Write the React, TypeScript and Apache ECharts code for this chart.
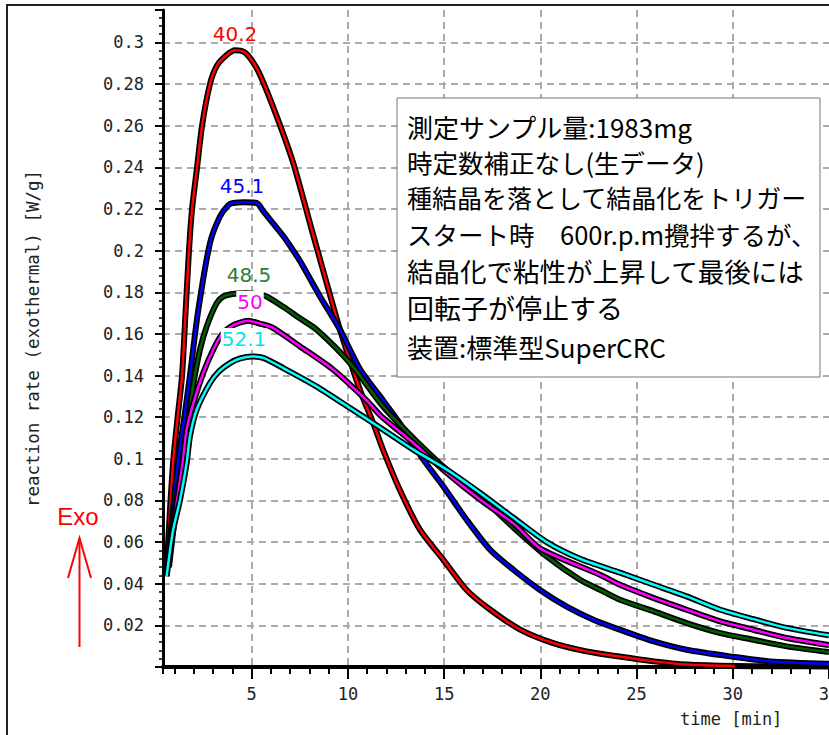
import React, { useEffect, useRef } from 'react';
import * as echarts from 'echarts';

// Temperature labels of the five runs
const runLabels = ['40.2', '45.1', '48.5', '50', '52.1'];
const runColors = ['#ff0000', '#0000ff', '#006000', '#ff00ff', '#00ffff'];
const runLabelColors = ['#ff0000', '#0000ff', '#2e7d32', '#ff00ff', '#00e5ee'];

// [time (min), reaction rate (W/g)]
const run402: [number, number][] = [
  [0.6, 0.05], [0.75, 0.075], [0.93, 0.1], [1.15, 0.12], [1.38, 0.14], [1.56, 0.17],
  [1.74, 0.2], [1.9, 0.22], [2.16, 0.24], [2.42, 0.26], [2.83, 0.28], [3.2, 0.289],
  [3.7, 0.294], [4.13, 0.2963], [4.6, 0.2955], [5.0, 0.2915], [5.43, 0.2845], [6.3, 0.2645],
  [7.16, 0.242], [8.12, 0.21], [9.0, 0.181], [9.59, 0.162], [10.63, 0.133], [11.32, 0.117],
  [11.84, 0.104], [12.7, 0.085], [13.74, 0.066], [14.96, 0.0515], [16.17, 0.037],
  [17.4, 0.0275], [18.95, 0.018], [20.67, 0.0115], [22.4, 0.0075], [24.1, 0.005],
  [25.9, 0.0027], [27.6, 0.0012], [30.1, 0.0005],
];
// the black outline of the 40.2 run keeps running along the baseline
const run402Tail: [number, number][] = [[32.5, 0.0004], [35, 0.0003]];

const run451: [number, number][] = [
  [0.6, 0.048], [0.9, 0.075], [1.19, 0.1], [1.5, 0.12], [1.79, 0.14], [2.2, 0.17],
  [2.83, 0.2036], [3.35, 0.2164], [3.8, 0.222], [4.04, 0.2229], [4.6, 0.2232], [5.26, 0.2229],
  [5.6, 0.219], [6.12, 0.213], [6.64, 0.207], [7.16, 0.2], [7.51, 0.195], [8.55, 0.178],
  [9.59, 0.162], [10.63, 0.143], [11.67, 0.13], [12.7, 0.117], [13.92, 0.0996],
  [14.96, 0.0867], [16.17, 0.0707], [17.39, 0.0563], [18.6, 0.0467], [19.98, 0.037],
  [21.37, 0.029], [22.76, 0.0227], [24.14, 0.0179], [25.9, 0.0123], [27.6, 0.0083],
  [29.87, 0.0051], [31.95, 0.0027], [35, 0.0016],
];

const run485: [number, number][] = [
  [0.65, 0.048], [1.0, 0.075], [1.25, 0.09], [1.53, 0.101], [1.71, 0.118], [1.97, 0.136],
  [2.31, 0.1524], [2.66, 0.1636], [3.18, 0.1748], [3.53, 0.178], [4.0, 0.1792], [4.7, 0.1795],
  [5.3, 0.179], [5.78, 0.178], [6.64, 0.173], [7.5, 0.1675], [8.38, 0.162], [10.11, 0.146],
  [11.84, 0.125], [13.5, 0.109], [15.14, 0.0948], [16.87, 0.082], [18.6, 0.067],
  [20.33, 0.0531], [22.06, 0.0419], [23.1, 0.0371], [24.14, 0.0323], [25.9, 0.0267],
  [27.6, 0.0211], [29.35, 0.0163], [31.07, 0.0131], [32.8, 0.0099], [35, 0.0072],
];

const run50: [number, number][] = [
  [0.7, 0.048], [1.05, 0.075], [1.41, 0.098], [1.62, 0.114], [1.97, 0.1268], [2.48, 0.1412],
  [3.0, 0.1524], [3.44, 0.1596], [4.0, 0.164], [4.82, 0.1663], [5.4, 0.165], [6.08, 0.163],
  [7.51, 0.154], [9.24, 0.1428], [10.98, 0.128], [11.67, 0.121], [12.7, 0.113],
  [13.4, 0.1076], [15.14, 0.0932], [16.87, 0.0804], [18.6, 0.069], [19.98, 0.057],
  [23.1, 0.0443], [24.14, 0.0395], [25.9, 0.0331], [27.6, 0.0275], [29.35, 0.0219],
  [31.07, 0.0179], [32.8, 0.0139], [35, 0.0105],
];

const run521: [number, number][] = [
  [0.58, 0.0435], [0.9, 0.065], [1.27, 0.08], [1.62, 0.098], [1.79, 0.1108], [2.14, 0.1236],
  [2.83, 0.1364], [3.3, 0.142], [3.87, 0.146], [4.4, 0.1482], [5.0, 0.1492], [5.6, 0.1485],
  [6.64, 0.1436], [8.38, 0.1347], [10.11, 0.1244], [11.84, 0.114], [13.4, 0.1044],
  [15.14, 0.0948], [16.87, 0.0836], [18.6, 0.0717], [20.33, 0.06], [22.06, 0.052],
  [24.14, 0.0453], [25.9, 0.0395], [27.6, 0.0339], [29.35, 0.0275], [31.07, 0.023],
  [32.8, 0.0188], [35, 0.0152],
];

const runs = [run402, run451, run485, run50, run521];
const outlineRuns = [[...run402, ...run402Tail], run451, run485, run50, run521];

const noteLines = [
  '測定サンプル量:1983mg',
  '時定数補正なし(生データ)',
  '種結晶を落として結晶化をトリガー',
  'スタート時　600r.p.m攪拌するが、',
  '結晶化で粘性が上昇して最後には',
  '回転子が停止する',
  '装置:標準型SuperCRC',
];
const noteLineY = [126, 161, 197, 233, 270, 307, 346];
const noteLineSize = [26, 25.5, 25, 25.5, 26.5, 27, 26];

// label anchor positions (px) for run temperature labels
const runLabelPos: [number, number][] = [[235, 34], [242, 186], [249, 275], [250, 302], [244, 339]];

const X_MIN = 0.39;
const X_MAX = 35;
const Y_MAX = 0.3156;

const MONO = '"DejaVu Sans Mono", monospace';

export default function App() {
  const ref = useRef<HTMLDivElement>(null);

  useEffect(() => {
    if (!ref.current) return;
    const chart = echarts.init(ref.current, null, { renderer: 'svg' });

    const series: any[] = [];
    runs.forEach((d, i) => {
      series.push({
        type: 'line',
        name: runLabels[i] + '-outline',
        data: outlineRuns[i],
        symbol: 'none',
        smooth: 0.25,
        silent: true,
        z: 2 + i * 2,
        lineStyle: { color: '#000', width: 6 },
      });
      series.push({
        type: 'line',
        name: runLabels[i],
        data: d,
        symbol: 'none',
        smooth: 0.25,
        silent: true,
        z: 3 + i * 2,
        lineStyle: { color: runColors[i], width: 2.5 },
      });
    });

    const graphics: any[] = [
      {
        type: 'rect',
        z: 0,
        shape: { x: 7, y: 5, width: 1000, height: 1000 },
        style: { fill: 'none', stroke: '#222', lineWidth: 2 },
      },
      {
        type: 'rect',
        z: 100,
        shape: { x: 397, y: 98, width: 423, height: 279 },
        style: { fill: '#fff', stroke: '#777', lineWidth: 1 },
      },
      ...noteLines.map((t, i) => ({
        type: 'text',
        z: 101,
        x: 407,
        y: noteLineY[i],
        style: {
          text: t,
          font: `${noteLineSize[i]}px "Noto Sans CJK JP"`,
          fill: '#000',
          align: 'left',
          verticalAlign: 'middle',
          textAlign: 'left',
          textVerticalAlign: 'middle',
        },
      })),
      ...runLabels.map((t, i) => ({
        type: 'text',
        z: 120,
        x: runLabelPos[i][0],
        y: runLabelPos[i][1],
        style: {
          text: t,
          font: '20px "DejaVu Sans"',
          fill: runLabelColors[i],
          align: 'center',
          verticalAlign: 'middle',
          textAlign: 'center',
          textVerticalAlign: 'middle',
          backgroundColor: i >= 3 ? '#fff' : undefined,
          padding: i >= 3 ? [1, 1] : 0,
        },
      })),
      {
        type: 'text',
        z: 100,
        x: 78,
        y: 516,
        style: {
          text: 'Exo',
          font: '24px "Liberation Sans"',
          fill: '#ff0000',
          align: 'center',
          verticalAlign: 'middle',
          textAlign: 'center',
          textVerticalAlign: 'middle',
        },
      },
      {
        type: 'line',
        z: 100,
        shape: { x1: 79.5, y1: 647, x2: 79.5, y2: 538 },
        style: { stroke: '#ff0000', lineWidth: 2 },
      },
      {
        type: 'polyline',
        z: 100,
        shape: { points: [[68, 578], [79.5, 538], [91, 578]] },
        style: { stroke: '#ff0000', lineWidth: 2, fill: 'none' },
      },
    ];

    chart.setOption({
      animation: false,
      backgroundColor: '#fff',
      grid: {
        left: 163,
        right: 0,
        top: 10,
        bottom: 68,
        containLabel: false,
        outerBoundsMode: 'none',
      },
      xAxis: [
        {
          type: 'value',
          min: X_MIN,
          max: X_MAX,
          minInterval: 5,
          maxInterval: 5,
          position: 'bottom',
          name: 'time [min]',
          nameLocation: 'end',
          nameGap: -149,
          nameTextStyle: {
            fontFamily: MONO,
            fontSize: 17,
            color: '#222',
            align: 'left',
            verticalAlign: 'top',
            padding: [43, 0, 0, 0],
          },
          axisLine: { show: true, onZero: false, lineStyle: { color: '#000', width: 4 } },
          axisTick: { show: true, length: 12, lineStyle: { color: '#000', width: 2 } },
          axisLabel: {
            margin: 18,
            fontFamily: MONO,
            fontSize: 17,
            color: '#222',
            showMaxLabel: true,
            showMinLabel: false,
            formatter: (v: number) => {
              const r = Math.round(v);
              return Math.abs(v - r) < 1e-6 && r % 5 === 0 && r > 0 ? String(r) : '';
            },
          },
          splitLine: {
            show: true,
            showMinLine: false,
            showMaxLine: false,
            lineStyle: { color: '#aaa', width: 2, type: [7, 5] },
          },
        },
        {
          type: 'value',
          min: X_MIN,
          max: X_MAX,
          minInterval: 1,
          maxInterval: 1,
          position: 'bottom',
          axisLine: { show: false, onZero: false },
          axisTick: { show: true, length: 7, lineStyle: { color: '#000', width: 2 } },
          axisLabel: { show: false },
          splitLine: { show: false },
        },
      ],
      yAxis: {
        type: 'value',
        min: 0,
        max: Y_MAX,
        interval: 0.02,
        name: 'reaction rate (exothermal) [W/g]',
        nameLocation: 'middle',
        nameGap: 121,
        nameTextStyle: { fontFamily: MONO, fontSize: 17.5, color: '#222' },
        axisLine: { show: true, lineStyle: { color: '#000', width: 3 } },
        axisTick: { show: true, length: 8, lineStyle: { color: '#000', width: 2 } },
        minorTick: { show: true, splitNumber: 5, length: 4, lineStyle: { color: '#000', width: 1.5 } },
        axisLabel: {
          margin: 19,
          fontFamily: MONO,
          fontSize: 17,
          color: '#222',
          showMaxLabel: false,
          formatter: (v: number) =>
            v < 0.001 || v > 0.305 ? '' : String(parseFloat(v.toFixed(3))),
        },
        splitLine: {
          show: true,
          showMinLine: false,
          showMaxLine: false,
          lineStyle: { color: '#aaa', width: 2, type: [7, 5] },
        },
      },
      series,
      graphic: graphics,
    });

    return () => {
      chart.dispose();
    };
  }, []);

  return (
    <div
      ref={ref}
      style={{ position: 'absolute', left: 0, top: 0, width: 829, height: 735, background: '#fff' }}
    />
  );
}
